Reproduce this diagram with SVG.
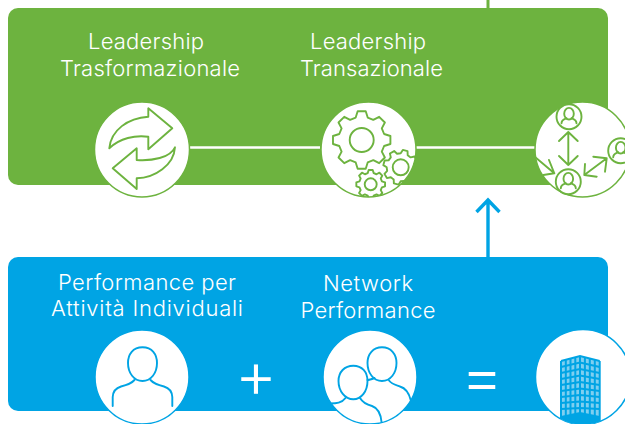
<svg xmlns="http://www.w3.org/2000/svg" xmlns:xlink="http://www.w3.org/1999/xlink" width="625" height="424" viewBox="0 0 625 424">
<style>
text{font-family:"Inter","Liberation Sans",sans-serif;font-weight:300;font-size:22px;fill:#fff;text-anchor:middle}
.g{fill:#fff;stroke:#6db33f;stroke-width:1.5}
.b{fill:#fff;stroke:#00a4e4;stroke-width:1.5}
.gl{fill:none;stroke:#6db33f;stroke-width:1.9;stroke-linejoin:round;stroke-linecap:round}
.bl{fill:none;stroke:#00a4e4;stroke-width:1.9;stroke-linejoin:round;stroke-linecap:round}
.nsc{vector-effect:non-scaling-stroke}
.w{stroke:#00a4e4;stroke-width:2;fill:none}
.sym{font-size:65px}
</style>
<defs>
<path id="gear" class="gl nsc" d="M.773,-.207L.99,-.139L.99,.139L.773,.207L.693,.4L.799,.602L.602,.799L.4,.693L.207,.773L.139,.99L-.139,.99L-.207,.773L-.4,.693L-.602,.799L-.799,.602L-.693,.4L-.773,.207L-.99,.139L-.99,-.139L-.773,-.207L-.693,-.4L-.799,-.602L-.602,-.799L-.4,-.693L-.207,-.773L-.139,-.99L.139,-.99L.207,-.773L.4,-.693L.602,-.799L.799,-.602L.693,-.4Z"/>
<g id="person" class="gl">
<circle r="12.5" fill="#fff"/>
<ellipse cx="0" cy="-3" rx="4.8" ry="5.8"/>
<path d="M-7.500,6.500C-7.500,3 -5,2.500 -2.500,1.500M7.500,6.500C7.500,3 5,2.500 2.500,1.500"/>
</g>
<clipPath id="c2"><circle cx="368.500" cy="149.500" r="47.500"/></clipPath>
<clipPath id="c3"><circle cx="582.500" cy="149.500" r="47.500"/></clipPath>
<clipPath id="c5"><circle cx="370" cy="377" r="47"/></clipPath>
<clipPath id="c6"><circle cx="583" cy="377" r="47.500"/></clipPath>
</defs>

<rect id="green-panel" x="8" y="8" width="600" height="177" rx="10" fill="#6db33f"/>
<rect id="blue-panel" x="8" y="257" width="600" height="154" rx="10" fill="#00a4e4"/>

<g id="connectors" fill="none" stroke-linecap="butt">
<path d="M488,0V8" stroke="#6db33f" stroke-width="3"/>
<path d="M190,147.500H320M416,147.500H535" stroke="#fff" stroke-width="2.500"/>
<path d="M488,257V200M476.500,212L488,200L499.500,212" stroke="#00a4e4" stroke-width="3.400"/>
</g>

<g id="node-trasformazionale">
<text x="146" y="49" textLength="116">Leadership</text>
<text x="150" y="76" textLength="180">Trasformazionale</text>
<circle class="g" cx="142" cy="149.500" r="47.500"/>
<path class="gl" d="M172.300,128.300L148.300,108.300V116.700C128,118 111,130 109.300,148.300C120,138 135,135 148.300,136.700V149.300Z"/>
<path class="gl" d="M112.700,168.300L136.700,148.300V160C152,161 170,158 175,147.300C174,165 155,178 136.700,178.300V189Z"/>
</g>

<g id="node-transazionale">
<text x="368" y="49" textLength="116">Leadership</text>
<text x="371.500" y="76" textLength="143">Transazionale</text>
<circle class="g" cx="368.500" cy="149.500" r="47.500"/>
<g clip-path="url(#c2)">
<use xlink:href="#gear" transform="translate(361.700,140) scale(29)"/>
<circle class="gl" cx="361.700" cy="140" r="12"/>
<use xlink:href="#gear" transform="translate(400.700,167.300) rotate(15) scale(17.500)"/>
<circle class="gl" cx="400.700" cy="167.300" r="8"/>
<use xlink:href="#gear" transform="translate(370.700,184.300) scale(14.500)"/>
<circle class="gl" cx="370.700" cy="184.300" r="6"/>
</g>
</g>

<g id="node-network-leadership">
<circle class="g" cx="582.500" cy="149.500" r="47.500"/>
<g clip-path="url(#c3)">
<path class="gl" d="M535,157L554.300,173.300M549,160L554.300,173.300L543.300,175"/>
</g>
<path class="gl" d="M568.300,132V165M559,141L568.300,132L577.700,141M559,156L568.300,165L577.700,156"/>
<path class="gl" d="M584.300,175L606.700,158.300M593.300,156.700L606.700,158.300L605,171.700M585,164L584.300,175L596.700,176.700"/>
<use xlink:href="#person" x="569" y="116.700"/>
<use xlink:href="#person" x="568.300" y="181.700"/>
<use xlink:href="#person" x="620.700" y="150.700"/>
</g>

<g id="node-individual">
<text x="147" y="290" textLength="178">Performance per</text>
<text x="147" y="316" textLength="192">Attività Individuali</text>
<circle class="b" cx="142" cy="377" r="47"/>
<path class="bl" d="M142.500,347.300C133,347.300 128,354 128,363C128,373 134,381 142.500,381C151,381 157,373 157,363C157,354 152,347.300 142.500,347.300Z"/>
<path class="bl" d="M112.700,406V397C113,391 116,388 121,386.500C127,385 131,384 134.500,380M172.300,406V397C172,391 169,388 164,386.500C158,385 154,384 150.500,380"/>
</g>

<text id="plus" class="sym" x="256" y="398">+</text>

<g id="node-network">
<text x="368" y="291" textLength="90">Network</text>
<text x="368" y="318" textLength="135">Performance</text>
<circle class="b" cx="370" cy="377" r="47"/>
<g clip-path="url(#c5)">
<path class="bl" d="M382,347.300C373,347.300 367.500,354 367.500,363C367.500,373 373.500,381 382,381C390.500,381 396.500,373 396.500,363C396.500,354 391,347.300 382,347.300Z"/>
<path class="bl" d="M389,380.500C392,384.500 396,385 400,386.500C405,388 409,393 410.700,400M367.500,380C369,380 372,379 374.500,378"/>
<path class="bl" d="M353.300,365.700C344.500,365.700 338.500,372 338.500,381C338.500,391 345,399.300 353.300,399.300C361.500,399.300 367.500,391 367.500,381C367.500,372 362,365.700 353.300,365.700Z"/>
<path class="bl" d="M330,403.500C336,403.300 342,403 345.500,398M360,398C363,403 368,405 372,406C378,408 381,414 381.700,423"/>
</g>
</g>

<text id="equals" class="sym" x="482" y="399">=</text>

<g id="node-building">
<circle class="b" cx="583" cy="377" r="47.500"/>
<g clip-path="url(#c6)">
<path d="M561,361L580,356L599.700,361V424H561Z" fill="#7fcff0"/>
<path class="w" d="M561,361L580,356L599.700,361"/>
<path class="w" d="M561,367L580,362.500L599.700,367M561,373L580,369L599.700,373M561,379L580,375.500L599.700,379M561,385L580,382L599.700,385M561,391L580,388.500L599.700,391M561,397L580,395L599.700,397M561,403L580,401.500L599.700,403M561,409L580,408L599.700,409"/>
<path class="w" d="M561,361V424M565.800,360V424M570.500,359V424M575.300,358V424M580,356V424M584.900,358V424M589.800,359V424M594.800,360V424M599.700,361V424"/>
<path d="M561,416L580,412L599.700,416V424H561Z" fill="#00a4e4"/>
</g>
</g>
</svg>
